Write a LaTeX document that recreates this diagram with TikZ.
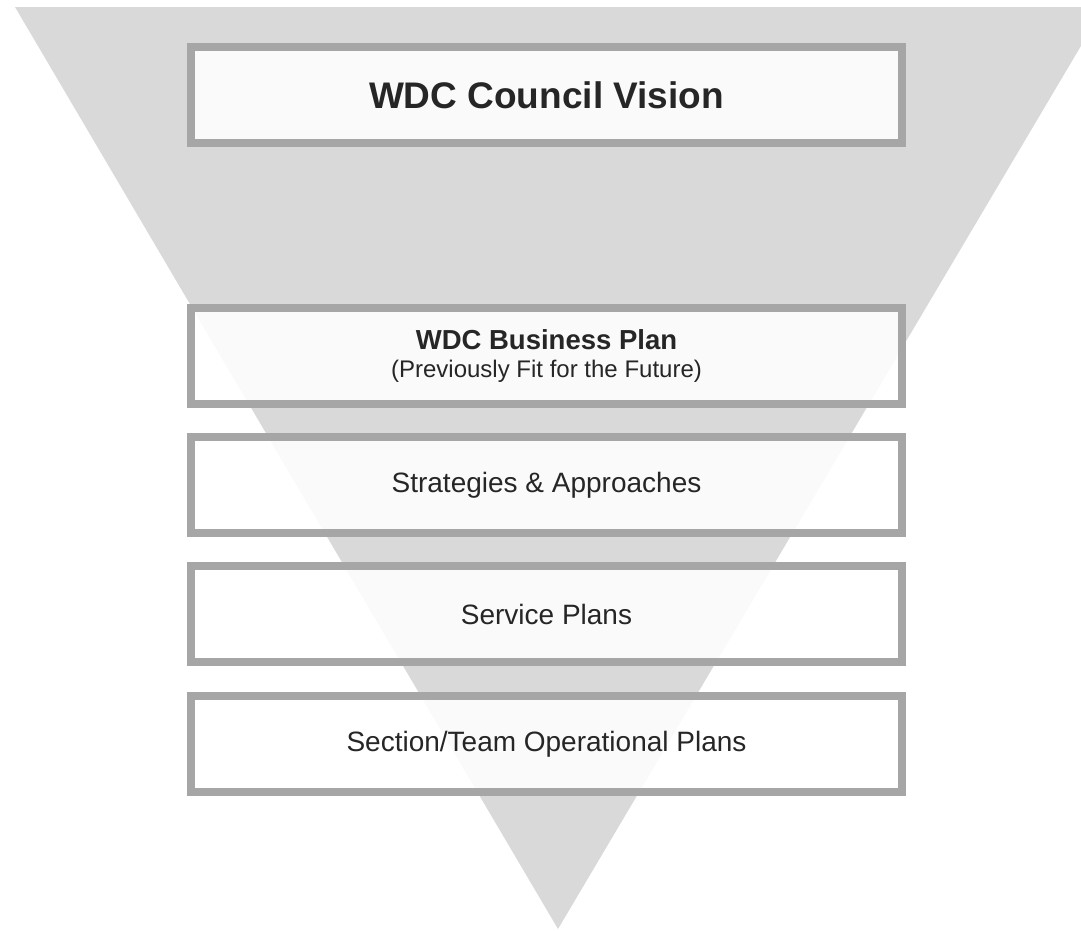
\documentclass[tikz,border=0pt]{standalone}
\usepackage{fontspec}
\setmainfont{Liberation Sans}
\definecolor{trifill}{HTML}{D9D9D9}
\definecolor{boxline}{HTML}{A6A6A6}
\definecolor{txt}{HTML}{262626}
\begin{document}
\begin{tikzpicture}[x=1pt,y=1pt,
  planbox/.style={draw=boxline, line width=8pt, fill=white, fill opacity=0.87, text opacity=1,
    minimum width=711pt, minimum height=96pt, inner sep=0pt, text=txt, align=center, anchor=north west},
  bigtitle/.style={font=\fontsize{37pt}{40pt}\selectfont\bfseries},
  normaltext/.style={font=\fontsize{24pt}{28pt}\selectfont},
  largetext/.style={font=\fontsize{28pt}{32pt}\selectfont}
]
\useasboundingbox (0,0) rectangle (1081,-930);
\fill[trifill] (15,-7) -- (1104,-7) -- (558,-929) -- cycle;
\node[planbox, bigtitle] (vision) at (187,-43) {WDC Council Vision};
\node[planbox, normaltext] (business) at (187,-304) {{\bfseries\fontsize{27.5pt}{28pt}\selectfont WDC Business Plan}\\(Previously Fit for the Future)};
\node[planbox, largetext] (strategies) at (187,-433) {Strategies \& Approaches};
\node[planbox, largetext] (service) at (187,-562) {Service Plans};
\node[planbox, largetext] (section) at (187,-692) {Section/Team Operational Plans};
\end{tikzpicture}
\end{document}
